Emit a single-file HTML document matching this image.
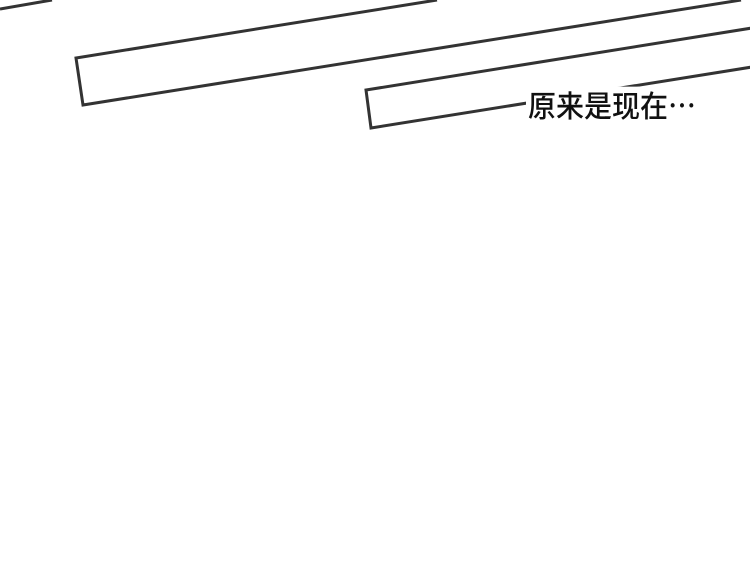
<!DOCTYPE html>
<html><head><meta charset="utf-8"><style>
html,body{margin:0;padding:0;background:#fff;width:750px;height:586px;overflow:hidden;position:relative}
.t{position:absolute;left:526px;top:88px;font-family:"Noto Sans CJK SC",sans-serif;font-size:28px;line-height:34px;color:#111;background:#fff;padding:0 2px;font-weight:500;transform:scaleY(1.08);transform-origin:left center}
</style></head><body>
<svg width="750" height="586" style="position:absolute;left:0;top:0">
<g fill="none" stroke="#333" stroke-width="3" stroke-linejoin="miter">
<line x1="0" y1="9" x2="52" y2="0"/>
<polyline points="437,0 76,58 83,105 741,0"/>
<polyline points="752,28 366,90 371,128 752,67"/>
</g>
</svg>
<div class="t">原来是现在⋯</div>
</body></html>
